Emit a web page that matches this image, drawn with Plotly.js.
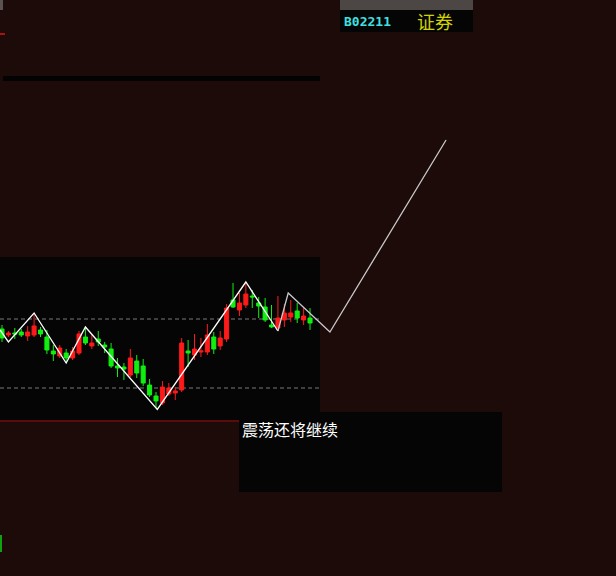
<!DOCTYPE html>
<html>
<head>
<meta charset="utf-8">
<script src="https://cdn.plot.ly/plotly-3.0.1.min.js"></script>
<style>
html,body{margin:0;padding:0;background:#1d0b09;overflow:hidden;}
#chart{width:616px;height:576px;}
</style>
</head>
<body>
<div id="chart"></div>
<script>
// ---- data ----
const candleIndex = Array.from({length: 49}, (_, i) => i);
const openP  = [9.855,9.768,9.797,9.812,9.754,9.768,9.841,9.739,9.536,9.464,9.507,9.435,9.507,9.739,9.609,9.710,9.623,9.565,9.319,9.304,9.188,9.391,9.319,9.043,8.884,8.783,8.913,8.928,8.971,9.536,9.478,9.522,9.522,9.739,9.609,9.710,10.275,10.130,10.203,10.333,10.232,10.174,9.913,9.870,9.986,10.029,10.116,9.986,10.014];
const highP  = [9.913,9.826,9.870,9.855,9.899,10.087,9.884,9.841,9.623,9.623,9.565,9.594,9.826,9.884,9.768,9.826,9.667,9.652,9.435,9.362,9.565,9.478,9.420,9.130,8.942,9.101,9.072,9.014,9.725,9.696,9.783,9.725,9.928,9.812,9.826,10.217,10.522,10.377,10.536,10.420,10.319,10.304,10.203,10.333,10.217,10.275,10.232,10.159,10.159];
const lowP   = [9.667,9.739,9.710,9.739,9.681,9.739,9.739,9.493,9.391,9.435,9.362,9.406,9.478,9.623,9.565,9.609,9.507,9.290,9.159,9.116,9.159,9.145,9.029,8.870,8.710,8.754,8.884,8.826,8.942,9.304,9.406,9.449,9.478,9.493,9.551,9.667,10.159,10.043,10.159,10.159,10.014,9.957,9.870,9.826,9.884,9.957,9.942,9.913,9.841];
const closeP = [9.725,9.797,9.783,9.768,9.812,9.899,9.783,9.551,9.493,9.580,9.435,9.536,9.783,9.652,9.652,9.667,9.594,9.319,9.290,9.275,9.435,9.217,9.072,8.899,8.812,9.014,9.000,8.957,9.652,9.507,9.565,9.536,9.768,9.565,9.725,10.159,10.174,10.232,10.362,10.319,10.188,9.986,9.884,10.014,10.087,10.087,10.014,10.043,9.942];

// zigzag (completed waves) and projected path
const zigX = [-0.3, 1, 5, 10, 13, 24.2, 38, 43];
const zigY = [9.841, 9.667, 10.087, 9.362, 9.884, 8.690, 10.536, 9.826];
const projX = [43, 44.6, 51.1, 69.2];
const projY = [9.826, 10.377, 9.812, 12.594];

// reference levels
const levels = [10.0, 9.0];

// labels
const codeLabel = "B02211";
const nameLabel = "证券";
const commentLabel = "震荡还将继续";

// ---- layout helpers (pixel -> paper) ----
const W = 616, H = 576;
function rect(x0, y0, x1, y1, color) {
  return {type: 'rect', xref: 'paper', yref: 'paper', layer: 'below',
    x0: x0 / W, x1: x1 / W, y0: 1 - y1 / H, y1: 1 - y0 / H,
    fillcolor: color, line: {width: 0}};
}

const shapes = [
  rect(3, 76, 320, 81, '#030303'),
  rect(0, 257, 320, 420, '#050505'),
  rect(0, 420, 239, 422, '#5a0c0a'),
  rect(239, 412, 502, 492, '#050505'),
  rect(340, 0, 473, 10, '#4c4644'),
  rect(340, 10, 473, 32, '#050505'),
  rect(0, 0, 3, 10, '#5a5450'),
  rect(0, 33, 5, 35, '#b01010'),
  rect(0, 535, 2, 552, '#10a010'),
];
levels.forEach(v => shapes.push({
  type: 'line', xref: 'paper', yref: 'y', x0: 0, x1: 320 / W, y0: v, y1: v,
  line: {color: '#7a7a7a', width: 1, dash: '4px,3px'}, layer: 'below'
}));

const traces = [
  {
    type: 'candlestick', x: candleIndex, open: openP, high: highP, low: lowP, close: closeP,
    increasing: {line: {color: '#ff1a1a', width: 1}, fillcolor: '#ff1a1a'},
    decreasing: {line: {color: '#10f010', width: 1}, fillcolor: '#10f010'},
    hoverinfo: 'skip', showlegend: false
  },
  {
    type: 'scatter', mode: 'lines', x: zigX, y: zigY,
    line: {color: '#ffffff', width: 1.3}, hoverinfo: 'skip', showlegend: false
  },
  {
    type: 'scatter', mode: 'lines', x: projX, y: projY,
    line: {color: '#c8c8c8', width: 1.3}, hoverinfo: 'skip', showlegend: false
  }
];

const layout = {
  width: W, height: H,
  margin: {l: 0, r: 0, t: 0, b: 0, pad: 0},
  paper_bgcolor: '#1d0b09', plot_bgcolor: 'rgba(0,0,0,0)',
  showlegend: false,
  boxgap: 0.3, boxgroupgap: 0.1,
  xaxis: {range: [-0.3117, 95.68], visible: false, fixedrange: true, rangeslider: {visible: false}},
  yaxis: {range: [6.2754, 14.623], visible: false, fixedrange: true},
  shapes: shapes,
  annotations: [
    {xref: 'paper', yref: 'paper', x: 342 / W, y: 1 - 21 / H, xanchor: 'left', yanchor: 'middle',
     text: codeLabel, showarrow: false,
     font: {family: 'DejaVu Sans Mono', size: 13, color: '#3fe0e0', weight: 'bold'}},
    {xref: 'paper', yref: 'paper', x: 415 / W, y: 1 - 21 / H, xanchor: 'left', yanchor: 'middle',
     text: nameLabel, showarrow: false,
     font: {family: 'Noto Sans CJK SC', size: 18, color: '#d2d200'}},
    {xref: 'paper', yref: 'paper', x: 240 / W, y: 1 - 429 / H, xanchor: 'left', yanchor: 'middle',
     text: commentLabel, showarrow: false,
     font: {family: 'Noto Sans CJK SC', size: 16, color: '#ffffff'}}
  ]
};

Plotly.newPlot('chart', traces, layout, {displayModeBar: false, staticPlot: true});
</script>
</body>
</html>
